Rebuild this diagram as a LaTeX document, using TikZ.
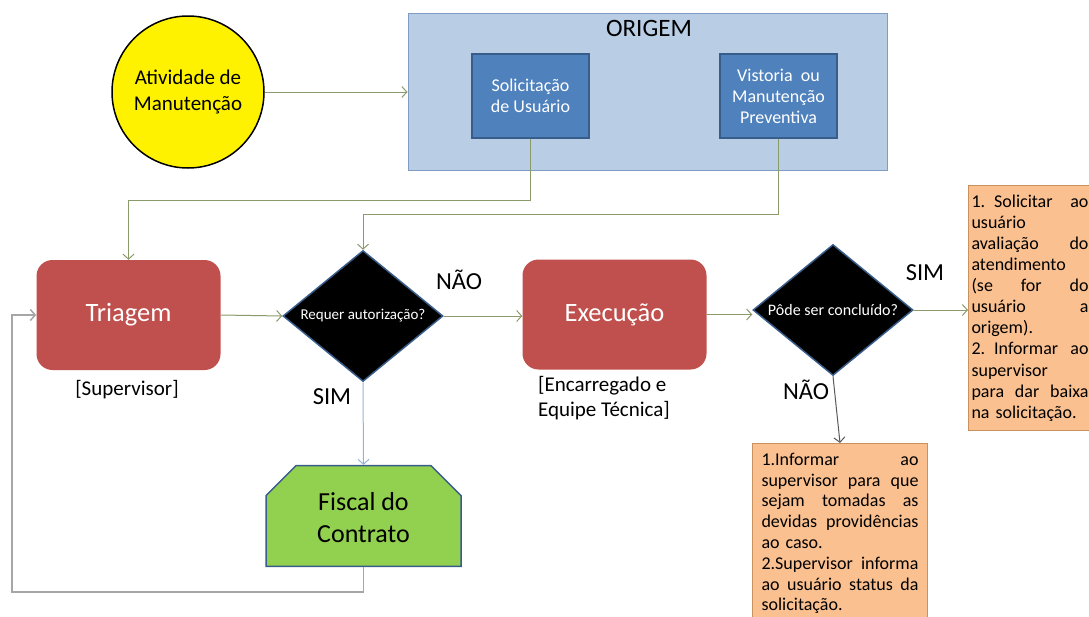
\documentclass[tikz,border=0pt]{standalone}
\usepackage{fontspec}
\setmainfont{Carlito}
\usetikzlibrary{shapes.geometric,shapes.misc,arrows.meta,positioning}

\definecolor{origemfill}{HTML}{B9CDE5}
\definecolor{origemdraw}{HTML}{7E9CC4}
\definecolor{azul}{HTML}{4F81BD}
\definecolor{azulesc}{HTML}{385D8A}
\definecolor{vermelho}{HTML}{C0504D}
\definecolor{verde}{HTML}{92D050}
\definecolor{laranja}{HTML}{FAC090}
\definecolor{laranjaesc}{HTML}{C8925E}
\definecolor{oliva}{HTML}{8A9A6A}
\definecolor{cinza}{HTML}{A6A6A6}
\definecolor{azulclaro}{HTML}{95B3D7}
\definecolor{escuro}{HTML}{595959}

\tikzset{
  origembox/.style={draw=azulesc, fill=azul, line width=1.5pt, minimum width=117pt,
    minimum height=84pt, text=white, align=center, font=\fontsize{18}{21}\selectfont},
  processo/.style={rounded corners=16pt, fill=vermelho, text=white, minimum width=184pt,
    minimum height=110pt, font=\fontsize{26.5}{30}\selectfont},
  decisao/.style={diamond, shape aspect=1.6, fill=black, draw=azulesc, line width=1.5pt,
    minimum width=160pt, minimum height=131pt, inner sep=0pt, text=white,
    font=\fontsize{15}{18}\selectfont},
  nota/.style={draw=laranjaesc, fill=laranja, line width=1pt, anchor=north west, align=left,
    inner ysep=5pt, font=\fontsize{18}{21.1}\selectfont},
  rotulo/.style={font=\fontsize{24.5}{28}\selectfont},
  papel/.style={align=left, font=\fontsize{21}{25}\selectfont},
  seta/.style={draw=oliva, line width=1pt, -{Straight Barb[length=5pt,width=11pt]}},
}

\begin{document}
\begin{tikzpicture}[x=1pt, y=-1pt]
  \useasboundingbox (0,0) rectangle (1089,616);

  \node[circle, fill=yellow, draw=black, line width=1.5pt, minimum size=152pt, align=center,
    font=\fontsize{21}{26}\selectfont] (atividade) at (188,92) {Atividade de\\Manutenção};

  % origem
  \node[draw=origemdraw, fill=origemfill, line width=1pt, minimum width=479pt,
    minimum height=157pt] (origem) at (647.5,91.5) {};
  \node[font=\fontsize{25}{28}\selectfont] (titulo) at (649,28) {ORIGEM};
  \node[origembox] (solic) at (530.5,96) {Solicitação\\de Usuário};
  \node[origembox] (vistoria) at (778.5,96) {Vistoria\ \ ou\\Manutenção\\Preventiva};

  \node[processo] (triagem) at (128.5,315) {Triagem};
  \node[papel] (supervisor) at (127,390) {[Supervisor]};

  \node[decisao] (req) at (363,316) {Requer autorização?};
  \node[rotulo] (nao1) at (459,280) {NÃO};
  \node[rotulo] (sim1) at (332,397) {SIM};

  \node[processo] (execucao) at (614.5,314.5) {Execução};
  \node[papel] (encarregado) at (604,398) {[Encarregado e\\Equipe Técnica]};

  \node[decisao, font=\fontsize{16}{18}\selectfont] (pode) at (833,310) {Pôde ser concluído?};
  \node[rotulo] (sim2) at (925,273) {SIM};
  \node[rotulo] (nao2) at (806,390) {NÃO};

  \node[chamfered rectangle, chamfered rectangle corners={north west,north east},
    chamfered rectangle xsep=15pt, chamfered rectangle ysep=15pt, fill=verde, draw=azulesc,
    line width=1.5pt, minimum width=195pt, minimum height=98pt,
    font=\fontsize{26}{32}\selectfont] (fiscal) at (363.5,516)
    {\raisebox{-4pt}[\height][\depth]{\begin{tabular}{@{}c@{}}Fiscal do\\Contrato\end{tabular}}};

  % notas
  \node[nota, text width=117pt, inner xsep=3pt, minimum height=245pt] (concluido) at (968,185)
    {1. Solicitar\hfill ao\\
     usuário\\
     avaliação\hfill do\\
     atendimento\\
     (se\hfill for\hfill do\\
     usuário\hfill a\\
     origem).\\
     2. Informar\hfill ao\\
     supervisor\\
     para\hfill dar\hfill baixa\\
     na solicitação.};
  \node[nota, text width=157pt, inner xsep=9pt, minimum height=180pt,
    font=\fontsize{18}{20.8}\selectfont] (pendente) at (752,443)
    {1.Informar\hfill ao\\
     supervisor\hfill para\hfill que\\
     sejam\hfill tomadas\hfill as\\
     devidas\hfill providências\\
     ao caso.\\
     2.Supervisor\hfill informa\\
     ao\hfill usuário\hfill status\hfill da\\
     solicitação.};

  \coordinate (c1) at (0,200);
  \coordinate (c2) at (0,214);
  \coordinate (c3) at (12,592);

  \draw[seta] (atividade.east) -- (atividade.east -| origem.west);
  \draw[seta] (solic.south) -- (solic.south |- c1) -| (triagem.north);
  \draw[seta] (vistoria.south) -- (vistoria.south |- c2) -| (req.north);
  \draw[seta] (triagem.east) -- (req.west);
  \draw[seta] (req.east) -- (req.east -| execucao.west);
  \draw[seta] (execucao.east) -- (execucao.east -| pode.west);
  \draw[seta] (pode.east) -- (pode.east -| concluido.west);
  \draw[seta, draw=escuro] (pode.south) -- (pendente.north);
  \draw[seta, draw=azulclaro] (req.south) -- (fiscal.north);
  \draw[seta, draw=cinza, line width=1.5pt] (fiscal.south) |- (c3) |- (triagem.west);
\end{tikzpicture}
\end{document}
